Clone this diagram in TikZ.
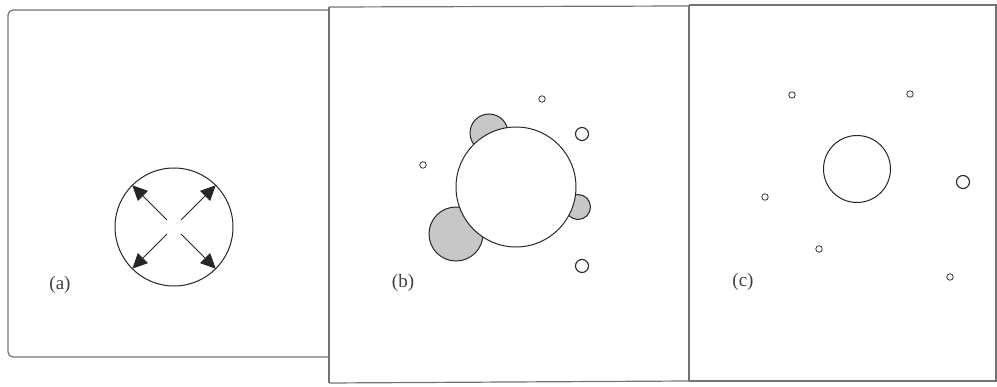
\documentclass[tikz,border=0pt]{standalone}
\usepackage{fontspec}
\setmainfont{Liberation Serif}
\usetikzlibrary{arrows.meta}
\begin{document}
\begin{tikzpicture}[x=1pt,y=-1pt,
  frame/.style={draw=black!55,line width=1.2pt},
  ring/.style={circle,draw=black!85,line width=1pt,inner sep=0pt,outer sep=0pt,fill=white},
  blob/.style={ring,fill=black!22},
  dot/.style={circle,draw=black!80,line width=0.8pt,inner sep=0pt,outer sep=0pt,minimum size=6.5pt},
  mid/.style={circle,draw=black!85,line width=1.1pt,inner sep=0pt,outer sep=0pt,minimum size=13pt},
  lab/.style={font=\fontsize{19}{21}\selectfont,text=black!75},
  push/.style={line width=0.9pt,draw=black!85,-{Triangle[length=15pt,width=14pt]}}]
\useasboundingbox (0,0) rectangle (997,387);
% frames
\draw[frame,rounded corners=5pt] (329,357) -- (8,357) -- (8,10) -- (329,10);
\draw[frame] (329,7) -- (329,383);
\draw[frame] (329,7) -- (689,6);
\draw[frame] (329,383) -- (689,381);
\draw[frame] (689,5) -- (689,381);
\draw[frame] (689,5) -- (996,5) -- (996,381) -- (689,381);
% panel (a)
\node[ring,minimum size=118pt] (ca) at (174,227) {};
\coordinate (a1) at (181,220);
\coordinate (a2) at (167,220);
\coordinate (a3) at (167,234);
\coordinate (a4) at (181,234);
\draw[push] (a1) -- (ca.45);
\draw[push] (a2) -- (ca.135);
\draw[push] (a3) -- (ca.225);
\draw[push] (a4) -- (ca.315);
\node[lab] (la) at (60,285) {(a)};
% panel (b)
\node[blob,minimum size=38pt] (g1) at (489,133) {};
\node[blob,minimum size=54pt] (g2) at (456,234) {};
\node[blob,minimum size=25pt] (g3) at (578,207) {};
\node[ring,minimum size=120pt] (cb) at (516,187) {};
\node[dot] (b1) at (542,99) {};
\node[dot] (b2) at (423,165) {};
\node[mid] (b3) at (582,134) {};
\node[mid] (b4) at (582,266) {};
\node[lab] (lb) at (403,283) {(b)};
% panel (c)
\node[ring,minimum size=67pt] (cc) at (857,169) {};
\node[dot] (c1) at (792,95) {};
\node[dot] (c2) at (910,94) {};
\node[dot] (c3) at (765,197) {};
\node[dot] (c4) at (819,249) {};
\node[dot] (c5) at (950,277) {};
\node[mid] (c6) at (963,182) {};
\node[lab] (lc) at (743,282) {(c)};
\end{tikzpicture}
\end{document}
